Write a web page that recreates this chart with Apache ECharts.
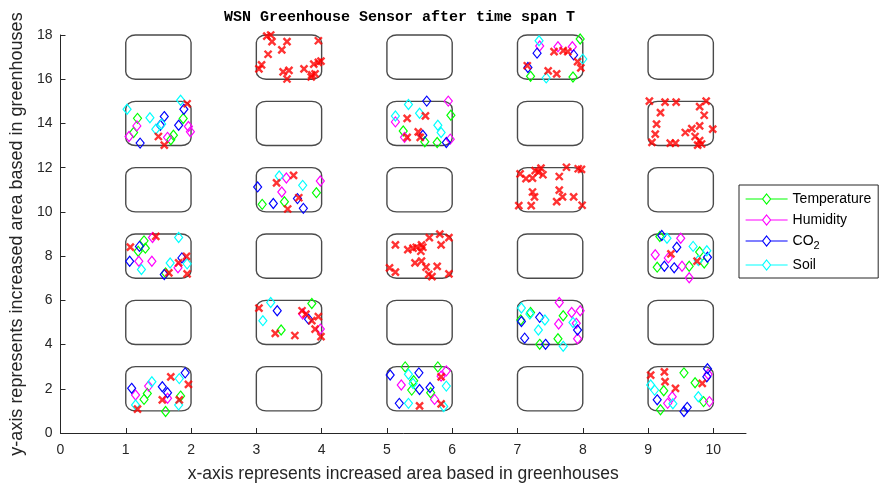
<!DOCTYPE html>
<html>
<head>
<meta charset="utf-8">
<script src="https://cdn.jsdelivr.net/npm/echarts@6.0.0/dist/echarts.min.js"></script>
<style>
  html, body { margin: 0; padding: 0; background: #fff; }
  #chart { width: 882px; height: 488px; }
</style>
</head>
<body>
<div id="chart"></div>
<script>
// ---- axis ticks ----
const xTicks = [0, 1, 2, 3, 4, 5, 6, 7, 8, 9, 10];
const yTicks = [0, 2, 4, 6, 8, 10, 12, 14, 16, 18];

// ---- greenhouse plots: lower-left corner of each 1 x 2 plot ----
const plotCols = [1, 3, 5, 7, 9];
const plotRows = [1, 4, 7, 10, 13, 16];
const plotWidth = 1;
const plotHeight = 2;

// ---- sensor readings after time span T ----
const temperature = [
  [1.18, 14.23], [1.12, 13.59], [1.88, 14.22], [1.73, 13.47], [1.69, 13.26],
  [5.98, 14.37], [5.25, 13.66], [5.58, 13.17], [5.77, 13.14],
  [7.96, 17.82], [7.20, 16.13], [7.85, 16.10],
  [3.09, 10.34], [3.43, 10.46], [3.92, 10.87],
  [1.28, 8.69], [1.30, 8.36], [1.19, 8.22], [1.61, 7.24],
  [9.14, 7.50], [9.79, 8.19], [9.86, 7.69], [9.63, 7.54], [9.18, 8.89],
  [3.85, 5.86], [3.38, 4.66],
  [1.33, 1.79], [1.28, 1.52], [1.84, 1.67], [1.61, 0.97],
  [7.05, 5.11], [7.70, 5.30], [7.20, 5.45], [7.34, 4.01], [7.62, 4.26],
  [5.28, 2.99], [5.41, 2.36], [5.38, 1.94], [5.67, 1.82], [5.78, 2.99],
  [9.55, 2.72], [9.72, 2.27], [9.24, 1.91], [9.85, 1.42], [9.19, 1.05]
];
const humidity = [
  [1.17, 13.89], [1.05, 13.41], [1.96, 13.86], [1.99, 13.62], [1.64, 13.37],
  [5.13, 14.07], [5.94, 15.01], [5.27, 13.37], [5.97, 13.29],
  [7.34, 17.50], [7.62, 17.47], [7.84, 17.47],
  [3.46, 11.53], [3.39, 10.90], [3.98, 11.40],
  [1.41, 8.84], [1.20, 7.77], [1.40, 7.77], [1.80, 7.47],
  [9.50, 8.81], [9.11, 8.06], [9.31, 7.92], [9.52, 7.54], [9.63, 7.02],
  [3.71, 5.38], [3.98, 4.70],
  [1.35, 2.12], [1.15, 1.72], [1.64, 1.57],
  [7.64, 5.90], [7.83, 5.45], [7.96, 5.53], [7.63, 4.93], [7.90, 4.96], [7.92, 4.26],
  [5.22, 2.17], [5.91, 2.81], [5.73, 1.52], [5.83, 2.57],
  [9.92, 2.66], [9.94, 1.42], [9.37, 1.64], [9.30, 1.34]
];
const co2 = [
  [1.89, 14.64], [1.59, 14.31], [1.53, 13.92], [1.81, 13.92], [1.22, 13.11],
  [5.61, 15.01], [5.55, 13.47], [5.91, 13.14],
  [7.30, 17.18], [7.86, 17.10], [7.16, 16.53],
  [3.02, 11.13], [3.26, 10.38], [3.63, 10.60], [3.72, 10.16],
  [1.21, 8.44], [1.06, 7.77], [1.86, 7.92], [1.59, 7.17],
  [9.21, 8.93], [9.44, 8.40], [9.91, 7.95], [9.25, 7.54], [9.40, 7.47],
  [3.32, 5.53], [3.80, 5.15],
  [1.91, 2.72], [1.09, 2.02], [1.56, 2.09], [1.64, 1.82],
  [7.06, 5.04], [7.34, 5.23], [7.11, 4.29], [7.92, 4.66], [7.43, 4.01],
  [5.05, 2.62], [5.49, 2.72], [5.50, 1.97], [5.66, 2.06], [5.19, 1.34],
  [9.91, 2.91], [9.14, 1.50], [9.55, 0.97], [9.60, 1.16], [9.90, 2.54]
];
const soil = [
  [1.84, 15.05], [1.02, 14.64], [1.37, 14.26], [1.46, 13.74], [1.55, 13.97],
  [5.13, 14.34], [5.33, 14.86], [5.50, 14.46], [5.78, 13.92], [5.83, 13.59],
  [7.33, 17.74], [8.00, 16.91], [7.44, 16.06],
  [3.35, 11.62], [3.71, 11.20],
  [1.81, 8.84], [1.68, 7.69], [1.24, 7.39], [1.94, 7.65],
  [9.29, 8.81], [9.69, 8.44], [9.90, 8.24], [9.77, 7.80],
  [3.22, 5.90], [3.10, 5.08],
  [1.40, 2.32], [1.82, 2.46], [1.15, 1.27], [1.81, 1.27],
  [7.06, 5.65], [7.19, 5.38], [7.42, 5.11], [7.32, 4.66], [7.85, 5.00], [7.70, 3.92],
  [5.33, 2.66], [5.40, 2.24], [5.91, 2.12], [5.33, 1.34], [5.87, 1.20],
  [9.04, 2.17], [9.10, 1.94], [9.77, 1.64], [9.38, 1.32]
];
// sensor nodes (red crosses)
const nodes = [
  [3.16, 17.95], [3.22, 18.00], [3.24, 17.70], [3.47, 17.70], [3.39, 17.33],
  [3.18, 17.13], [3.95, 17.74], [3.08, 16.65], [3.04, 16.47], [3.41, 16.33],
  [3.50, 16.40], [3.47, 16.01], [3.73, 16.47], [3.85, 16.20], [3.90, 16.24],
  [3.88, 16.68], [3.95, 16.76], [3.99, 16.82], [3.84, 16.10],
  [1.94, 14.89], [1.50, 13.41], [1.59, 13.02],
  [5.31, 14.23], [5.59, 14.34], [5.48, 13.62], [5.31, 13.37], [5.51, 13.37],
  [7.56, 17.25], [7.70, 17.29], [7.77, 17.25], [7.92, 16.80], [7.97, 16.51],
  [7.15, 16.61], [7.47, 16.38], [7.60, 16.24],
  [9.02, 15.01], [9.26, 14.96], [9.43, 14.96], [9.89, 15.01], [9.79, 14.76],
  [9.19, 14.49], [9.86, 14.37], [9.13, 13.97], [9.11, 13.52], [9.06, 13.14],
  [9.34, 13.11], [9.42, 13.11], [9.57, 13.59], [9.67, 13.77], [9.79, 13.89],
  [9.99, 13.74], [9.72, 13.41], [9.79, 13.22], [9.82, 13.07], [9.76, 13.02],
  [3.57, 11.65], [3.31, 11.31], [3.65, 10.64], [3.48, 10.13],
  [1.46, 8.89], [1.07, 8.41], [1.93, 7.99], [1.81, 7.69], [1.66, 7.24], [1.94, 7.20],
  [7.04, 11.72], [7.13, 11.50], [7.23, 11.53], [7.27, 11.87], [7.36, 11.98],
  [7.39, 11.68], [7.32, 11.80], [7.64, 11.60], [7.75, 12.02], [7.93, 11.95],
  [7.98, 11.92], [7.23, 10.90], [7.26, 10.68], [7.64, 10.98], [7.69, 10.68],
  [7.60, 10.46], [7.86, 10.68], [7.21, 10.28], [7.02, 10.28], [7.99, 10.30],
  [5.13, 8.51], [5.32, 8.29], [5.40, 8.36], [5.45, 8.40], [5.53, 8.51],
  [5.55, 8.40], [5.52, 8.22], [5.65, 8.84], [5.81, 8.99], [5.83, 8.51],
  [5.95, 8.84], [5.04, 7.47], [5.13, 7.28], [5.43, 7.69], [5.53, 7.77],
  [5.60, 7.50], [5.77, 7.54], [5.64, 7.17], [5.69, 7.07], [5.95, 7.20],
  [9.35, 8.10], [9.75, 7.77],
  [3.04, 5.65], [3.70, 5.53], [3.76, 5.38], [3.85, 5.08], [3.95, 5.26],
  [3.90, 4.70], [3.99, 4.36], [3.29, 4.51], [3.59, 4.41],
  [1.69, 2.54], [1.96, 2.20], [1.56, 1.50], [1.18, 1.08], [1.82, 1.50],
  [5.83, 2.54], [5.50, 1.23], [5.83, 1.32],
  [9.04, 2.62], [9.25, 2.76], [9.26, 2.32], [9.42, 2.02], [9.83, 2.24]
];

const sensorSeries = [
  { name: 'Temperature', color: '#00ff00', data: temperature },
  { name: 'Humidity', color: '#ff00ff', data: humidity },
  { name: 'CO2', color: '#0000ff', data: co2 },
  { name: 'Soil', color: '#00ffff', data: soil }
];

const plots = [];
plotRows.forEach(r => plotCols.forEach(c => plots.push([c, r])));

const axisColor = '#262626';
const sansFont = '"Liberation Sans", Arial, sans-serif';

// rounded greenhouse outline, elliptical corners
function renderPlot(params, api) {
  const x = api.value(0), y = api.value(1);
  const tl = api.coord([x, y + plotHeight]);
  const br = api.coord([x + plotWidth, y]);
  const L = tl[0], T = tl[1], R = br[0], B = br[1];
  const rx = (R - L) * 0.15, ry = (B - T) * 0.17, k = 0.5523;
  const d = [
    'M', L + rx, T, 'L', R - rx, T,
    'C', R - rx + k * rx, T, R, T + ry - k * ry, R, T + ry,
    'L', R, B - ry,
    'C', R, B - ry + k * ry, R - rx + k * rx, B, R - rx, B,
    'L', L + rx, B,
    'C', L + rx - k * rx, B, L, B - ry + k * ry, L, B - ry,
    'L', L, T + ry,
    'C', L, T + ry - k * ry, L + rx - k * rx, T, L + rx, T, 'Z'
  ].join(' ');
  return {
    type: 'path',
    shape: { pathData: d },
    style: { fill: 'none', stroke: '#4a4a4a', lineWidth: 1.4 }
  };
}

const legendIcon = 'path://M0,6L17,6M25,6L42,6M21,1L25,6L21,11L17,6Z';

const chart = echarts.init(document.getElementById('chart'), null, { renderer: 'canvas' });
chart.setOption({
  animation: false,
  backgroundColor: '#ffffff',
  title: {
    text: 'WSN Greenhouse Sensor after time span T',
    left: 224,
    top: 10,
    padding: 0,
    textStyle: {
      fontFamily: '"Liberation Mono", "DejaVu Sans Mono", monospace',
      fontSize: 15,
      fontWeight: 'bold',
      color: '#000'
    }
  },
  grid: { left: 57.75, right: 136, top: 35, bottom: 51.3, containLabel: false },
  legend: {
    orient: 'vertical',
    left: 739,
    top: 185,
    padding: [7, 7, 6, 6],
    itemGap: 7,
    itemWidth: 42,
    itemHeight: 10,
    icon: legendIcon,
    symbolKeepAspect: false,
    backgroundColor: '#fff',
    borderColor: axisColor,
    borderWidth: 1,
    borderRadius: 0,
    textStyle: {
      fontFamily: sansFont,
      fontSize: 14,
      color: '#000',
      rich: {
        sub: { fontSize: 11, padding: [9, 0, 0, 0], fontFamily: sansFont, color: '#000' }
      }
    },
    formatter: name => (name === 'CO2' ? 'CO{sub|2}' : name),
    data: sensorSeries.map(s => ({
      name: s.name,
      itemStyle: { color: 'transparent', borderColor: s.color, borderWidth: 1.2 }
    }))
  },
  xAxis: {
    type: 'value',
    min: 0,
    max: 10.5,
    interval: 1,
    name: 'x-axis represents increased area based in greenhouses',
    nameLocation: 'middle',
    nameGap: 32,
    nameTextStyle: { fontFamily: sansFont, fontSize: 17.5, color: axisColor },
    axisLine: { lineStyle: { color: axisColor, width: 1 } },
    axisTick: { inside: true, length: 5, lineStyle: { color: axisColor }, customValues: xTicks },
    axisLabel: { margin: 10, fontFamily: sansFont, fontSize: 14, color: axisColor, customValues: xTicks },
    splitLine: { show: false }
  },
  yAxis: {
    type: 'value',
    min: 0,
    max: 18,
    interval: 2,
    name: 'y-axis represents increased area based in greenhouses',
    nameLocation: 'middle',
    nameGap: 29,
    nameTextStyle: { fontFamily: sansFont, fontSize: 18, color: axisColor },
    axisLine: { show: true, lineStyle: { color: axisColor, width: 1 } },
    axisTick: { show: true, inside: true, length: 5, lineStyle: { color: axisColor }, customValues: yTicks },
    axisLabel: { margin: 8, fontFamily: sansFont, fontSize: 14, color: axisColor, customValues: yTicks },
    splitLine: { show: false }
  },
  series: [
    {
      type: 'custom',
      name: 'plots',
      data: plots,
      renderItem: renderPlot,
      silent: true,
      z: 1
    },
    ...sensorSeries.map(s => ({
      type: 'scatter',
      name: s.name,
      data: s.data,
      symbol: 'diamond',
      symbolSize: [8, 10],
      itemStyle: { color: 'transparent', borderColor: s.color, borderWidth: 1.2, opacity: 1 },
      z: 2
    })),
    {
      type: 'scatter',
      name: 'nodes',
      data: nodes,
      symbol: 'path://M0,0L10,10M10,0L0,10',
      symbolSize: 7,
      itemStyle: { color: 'transparent', borderColor: '#ff0000', borderWidth: 2.4 },
      z: 3
    }
  ]
});
</script>
</body>
</html>
